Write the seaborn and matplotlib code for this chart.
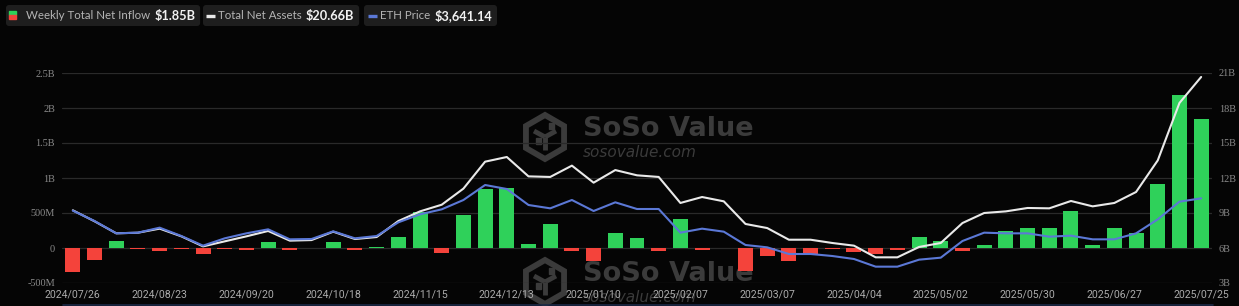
import numpy as np
import pandas as pd
import matplotlib
matplotlib.use("Agg")
import matplotlib.pyplot as plt
import seaborn as sns
from matplotlib.patches import FancyBboxPatch, RegularPolygon, Rectangle

# ---------------- data ----------------
week_dates = pd.date_range("2024-07-26", periods=53, freq="7D").strftime("%Y/%m/%d").tolist()

weekly_net_inflow_musd = [
    -342, -170, 105, -14, -45, -15, -91, -13, -26, 85,
    -30, -3, 80, -35, 8, 154, 515, -70, 467, 837,
    855, 62, 349, -38, -187, 212, 139, -42, 420, -25,
    -2, -335, -121, -190, -103, -8, -50, -82, -32, 157,
    106, -38, 42, 248, 286, 281, 528, 40, 283, 219,
    908, 2180, 1850,
]

total_net_assets_busd = [
    9.23, 8.29, 7.26, 7.31, 7.66, 7.00, 6.14, 6.57, 7.00, 7.46,
    6.63, 6.68, 7.40, 6.77, 6.94, 8.31, 9.14, 9.71, 11.09, 13.40,
    13.80, 12.14, 12.09, 13.06, 11.60, 12.68, 12.23, 12.09, 9.86, 10.37,
    10.00, 8.06, 7.71, 6.71, 6.71, 6.43, 6.20, 5.20, 5.20, 6.09,
    6.43, 8.14, 9.00, 9.14, 9.43, 9.40, 10.03, 9.57, 9.86, 10.80,
    13.51, 18.43, 20.66,
]

eth_price_usd = [
    3271, 2961, 2591, 2611, 2761, 2511, 2221, 2441, 2591, 2711,
    2411, 2421, 2651, 2441, 2511, 2921, 3161, 3311, 3591, 4041,
    3921, 3441, 3341, 3591, 3261, 3521, 3321, 3321, 2611, 2731,
    2641, 2241, 2171, 1971, 1971, 1911, 1821, 1591, 1591, 1801,
    1861, 2361, 2611, 2591, 2591, 2491, 2521, 2411, 2411, 2591,
    3011, 3541, 3641.14,
]

left_ticks = [-500, 0, 500, 1000, 1500, 2000, 2500]
left_tick_labels = ["-500M", "0", "500M", "1B", "1.5B", "2B", "2.5B"]
right_ticks = [3, 6, 9, 12, 15, 18, 21]
right_tick_labels = ["3B", "6B", "9B", "12B", "15B", "18B", "21B"]

legend_labels = ["Weekly Total Net Inflow", "Total Net Assets", "ETH Price"]
legend_values = ["$1.85B", "$20.66B", "$3,641.14"]

# ---------------- style ----------------
BG = "#050505"
GREEN = "#2fd15a"
RED = "#f4433b"
WHITE_LINE = "#e9e9e9"
BLUE_LINE = "#5b78d6"
GRID = "#2a2a2a"
WM = "#3b3b3b"

sns.set_theme(style="dark", rc={"axes.facecolor": "none", "figure.facecolor": BG,
                                "savefig.facecolor": BG})
plt.rcParams["font.family"] = ["Lato", "DejaVu Sans"]

W, H = 1239, 306
fig = plt.figure(figsize=(W / 100, H / 100), dpi=100, facecolor=BG)

# background layer (watermarks), drawn below the chart
bg = fig.add_axes([0, 0, 1, 1], zorder=-1)
bg.set_xlim(0, W)
bg.set_ylim(H, 0)
bg.axis("off")
bg.set_facecolor(BG)

def watermark(dy):
    bg.add_patch(RegularPolygon((545, 137 + dy), numVertices=6, radius=22,
                                orientation=0, fill=False, ec=WM, lw=4.2))
    cx, cy = 545, 137 + dy
    bg.plot([cx, cx], [cy, cy + 13], color=WM, lw=3.5, solid_capstyle="butt")
    bg.plot([cx - 11, cx], [cy - 6, cy], color=WM, lw=3.5, solid_capstyle="butt")
    bg.plot([cx, cx + 11], [cy, cy - 6], color=WM, lw=3.5, solid_capstyle="butt")
    bg.add_patch(Rectangle((cx - 9, cy + 1), 5, 6, color=WM))
    bg.add_patch(Rectangle((cx + 4, cy - 14), 5, 6, color=WM))
    bg.text(583, 136 + dy, "SoSo Value", color=WM, fontsize=19.5, fontweight="bold",
            family="DejaVu Sans", va="baseline", ha="left")
    bg.text(583, 157 + dy, "sosovalue.com", color=WM, fontsize=11, style="italic",
            family="DejaVu Sans", va="baseline", ha="left")

watermark(0)
watermark(145)
bg.plot([63, 1213], [305, 305], color="#1b2946", lw=1.2)

# main axes
ax = fig.add_axes([62 / W, 23 / H, 1150 / W, 210 / H])
ax.set_facecolor("none")

idx = list(range(len(week_dates)))
df = pd.DataFrame({
    "idx": idx,
    "date": week_dates,
    "inflow": weekly_net_inflow_musd,
    "sign": ["pos" if v >= 0 else "neg" for v in weekly_net_inflow_musd],
    "tna": total_net_assets_busd,
    "eth": eth_price_usd,
})

sns.barplot(data=df, x="idx", y="inflow", hue="sign", order=idx,
            palette={"pos": GREEN, "neg": RED}, dodge=False, width=0.69,
            saturation=1, linewidth=0, legend=False, ax=ax, zorder=2)
ax.set_xlim(-0.5, len(idx) - 0.5)
ax.set_ylim(-500, 2500)
ax.set_yticks(left_ticks)
ax.set_yticklabels(left_tick_labels)
ax.set_xticks(idx[::4])
ax.set_xticklabels(week_dates[::4])
ax.set_xlabel("")
ax.set_ylabel("")
ax.grid(axis="y", color=GRID, lw=0.9)
ax.grid(axis="x", visible=False)
ax.set_axisbelow(True)
for s in ax.spines.values():
    s.set_visible(False)
ax.tick_params(axis="x", length=0, pad=4.5, labelsize=7.6, colors="#ababab")
ax.tick_params(axis="y", length=0, pad=5, labelsize=7.4, colors="#8a8a8a")
for t in ax.get_xticklabels():
    t.set_family("Roboto")
for t in ax.get_yticklabels():
    t.set_family("Liberation Serif")

# total net assets (right axis)
ax2 = ax.twinx()
sns.lineplot(data=df, x="idx", y="tna", color=WHITE_LINE, lw=1.5, ax=ax2)
ax2.set_xlim(-0.5, len(idx) - 0.5)
ax2.set_ylim(3, 21)
ax2.set_yticks(right_ticks)
ax2.set_yticklabels(right_tick_labels)
ax2.set_ylabel("")
ax2.grid(False)
for s in ax2.spines.values():
    s.set_visible(False)
ax2.tick_params(axis="y", length=0, pad=5, labelsize=7.4, colors="#8a8a8a")
for t in ax2.get_yticklabels():
    t.set_family("Liberation Serif")

# ETH price (hidden axis)
ax3 = ax.twinx()
sns.lineplot(data=df, x="idx", y="eth", color=BLUE_LINE, lw=1.5, ax=ax3)
ax3.set_xlim(-0.5, len(idx) - 0.5)
ax3.set_ylim(1101, 7401)
ax3.set_yticks([])
ax3.set_ylabel("")
ax3.grid(False)
for s in ax3.spines.values():
    s.set_visible(False)
ax.set_xlabel("")

# legend overlay
ov = fig.add_axes([0, 0, 1, 1], zorder=10)
ov.set_xlim(0, W)
ov.set_ylim(H, 0)
ov.axis("off")
ov.set_facecolor("none")

renderer = fig.canvas.get_renderer()
box_x = [6, 203, 364]
label_x = [26, 218, 380]
for bx, lx, lab, val in zip(box_x, label_x, legend_labels, legend_values):
    box = FancyBboxPatch((bx, 5), 10, 21, boxstyle="round,pad=0,rounding_size=3",
                         fc="#1e1e1e", ec="none")
    ov.add_patch(box)
    t1 = ov.text(lx, 15.8, lab, color="#b4b4b4", fontsize=8.3, family="Lato",
                 va="center", ha="left")
    w1 = t1.get_window_extent(renderer=renderer).width
    vx = lx + w1 + 4
    t2 = ov.text(vx, 15.8, val, color="#f2f2f2", fontsize=9.2, family="Lato",
                 fontweight="bold", va="center", ha="left")
    w2 = t2.get_window_extent(renderer=renderer).width
    box.set_width(vx + w2 + 5 - bx)
ov.add_patch(Rectangle((9, 11), 7, 4, color=GREEN))
ov.add_patch(Rectangle((9, 15), 7, 4, color=RED))
ov.plot([206, 215], [15.5, 15.5], color=WHITE_LINE, lw=2.4, solid_capstyle="butt")
ov.plot([368, 377], [15.5, 15.5], color=BLUE_LINE, lw=2.4, solid_capstyle="butt")

fig.savefig("out.png", dpi=100, facecolor=BG)
